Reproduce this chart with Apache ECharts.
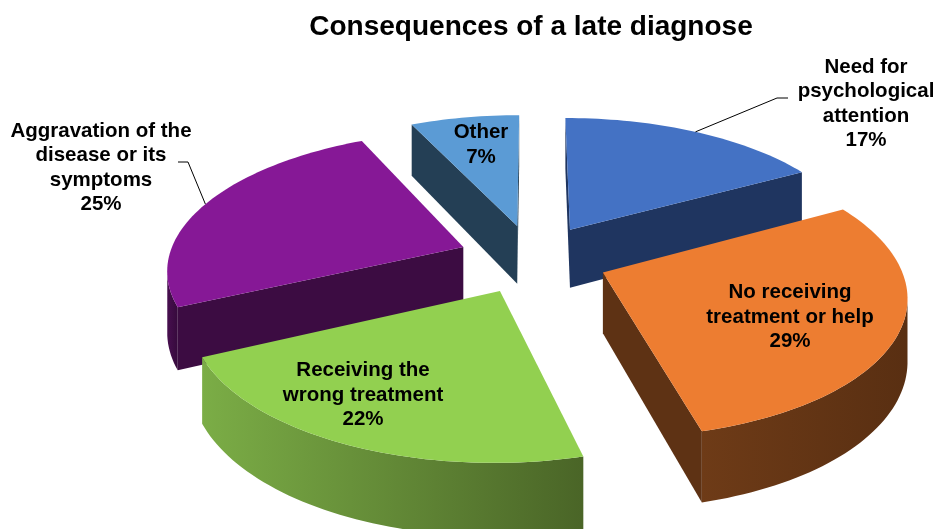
<!DOCTYPE html>
<html>
<head>
<meta charset="utf-8">
<title>Consequences of a late diagnose</title>
<script src="https://cdn.jsdelivr.net/npm/echarts@6/dist/echarts.min.js"></script>
<style>
  html, body { margin: 0; padding: 0; background: #fff; }
  #chart { width: 937px; height: 529px; }
</style>
</head>
<body>
<div id="chart"></div>
<script>
// data, clockwise from 12 o'clock
const categories = ['Need for\npsychological\nattention', 'No receiving\ntreatment or help', 'Receiving the\nwrong treatment', 'Aggravation of the\ndisease or its\nsymptoms', 'Other'];
const shares = [17, 29, 22, 25, 7];

// colours
const topColors = ['#4472C4', '#ED7D31', '#92D050', '#861896', '#5B9BD5'];
const wallColors = ['#1F3560', '#5E3214', '#5A7E31', '#3C0C42', '#243F55'];
const rimLight = ['#24406F', '#6E3B17', '#7BAD46', '#470F4F', '#2B4A63'];
const rimDark = ['#1C3056', '#592F12', '#4A6527', '#360A3C', '#213A4F'];

// label placement (text centres) and leader line starts for the outside labels
const labelPos = [[866, 104], [790, 317], [363, 395], [101, 168], [481, 145]];
const leaderFrom = { 0: [[788, 98], [777, 98]], 3: [[178, 162], [188, 162]] };

// fake 3d camera
const CX = 533, CY = 258.5, R = 295, TILT = 0.461, FOCAL = 2000, DEPTH = 60, EXPLODE = 75;
const FONT = '"Liberation Sans", Arial, sans-serif';

const total = shares.reduce((a, b) => a + b, 0);
const startAngles = [];
let acc = 0;
shares.forEach(v => { startAngles.push(acc / total * Math.PI * 2); acc += v; });

// farther slices get painted first
const midOf = i => startAngles[i] + shares[i] / total * Math.PI;
const order = shares.map((v, i) => i).sort((a, b) => Math.cos(midOf(b)) - Math.cos(midOf(a)));
const rank = [];
order.forEach((idx, r) => { rank[idx] = r; });

function project(x, d, h) {
  const s = FOCAL / (FOCAL + d);
  return [CX + x * s, CY + (-d * TILT + h) * s];
}

function faces(nx, nd, px, pd) {
  // wall is seen when its normal points at the camera
  return nx * (-px) + nd * (-FOCAL - pd) > 0;
}

function renderItem(params, api) {
  const i = params.dataIndex;
  const a0 = startAngles[i];
  const a1 = a0 + api.value(0) / total * Math.PI * 2;
  const am = (a0 + a1) / 2;
  const ox = EXPLODE * Math.sin(am), od = EXPLODE * Math.cos(am);
  const rim = (a, h) => project(ox + R * Math.sin(a), od + R * Math.cos(a), h);
  const base = rank[i] * 10;
  const children = [];

  const n = Math.max(6, Math.ceil((a1 - a0) / (Math.PI / 120)));
  const top = [], bot = [], seen = [];
  for (let k = 0; k <= n; k++) {
    const a = a0 + (a1 - a0) * k / n;
    top.push(rim(a, 0));
    bot.push(rim(a, DEPTH));
    seen.push(faces(Math.sin(a), Math.cos(a), ox + R * Math.sin(a), od + R * Math.cos(a)));
  }

  // curved outer wall, only the part facing us
  const idx = seen.map((v, k) => v ? k : -1).filter(k => k >= 0);
  if (idx.length > 1) {
    const ptsTop = idx.map(k => top[k]);
    const ptsBot = idx.map(k => bot[k]).reverse();
    children.push({
      type: 'polygon', z2: base + 1,
      shape: { points: ptsTop.concat(ptsBot) },
      style: {
        fill: new echarts.graphic.LinearGradient(0, 0, 1, 0, [
          { offset: 0, color: rimLight[i] }, { offset: 1, color: rimDark[i] }
        ]),
        stroke: null
      }
    });
  }

  // cut walls
  const apexTop = project(ox, od, 0), apexBot = project(ox, od, DEPTH);
  if (faces(-Math.cos(a0), Math.sin(a0), ox, od)) {
    children.push({
      type: 'polygon', z2: base + 1,
      shape: { points: [apexTop, rim(a0, 0), rim(a0, DEPTH), apexBot] },
      style: { fill: wallColors[i] }
    });
  }
  if (faces(Math.cos(a1), -Math.sin(a1), ox, od)) {
    children.push({
      type: 'polygon', z2: base + 1,
      shape: { points: [apexTop, rim(a1, 0), rim(a1, DEPTH), apexBot] },
      style: { fill: wallColors[i] }
    });
  }

  // top face
  children.push({
    type: 'polygon', z2: base + 2,
    shape: { points: [apexTop].concat(top) },
    style: { fill: topColors[i] }
  });

  // leader line for labels outside the pie
  if (leaderFrom[i]) {
    children.push({
      type: 'polyline', z2: 200,
      shape: { points: leaderFrom[i].concat([rim(am, 0)]) },
      style: { stroke: '#000', lineWidth: 1, fill: null }
    });
  }

  children.push({
    type: 'text', z2: 300,
    style: {
      text: categories[i] + '\n' + api.value(0) + '%',
      x: labelPos[i][0], y: labelPos[i][1],
      align: 'center', verticalAlign: 'middle',
      font: 'bold 20.5px ' + FONT, lineHeight: 24.5,
      fill: '#000'
    }
  });

  return { type: 'group', children: children };
}

const chart = echarts.init(document.getElementById('chart'));
chart.setOption({
  animation: false,
  backgroundColor: '#fff',
  graphic: [{
    type: 'text', x: 531, y: 27,
    style: {
      text: 'Consequences of a late diagnose',
      align: 'center', verticalAlign: 'middle',
      font: 'bold 28px ' + FONT, fill: '#000'
    }
  }],
  series: [{
    type: 'custom',
    coordinateSystem: 'none',
    renderItem: renderItem,
    data: shares
  }]
});
</script>
</body>
</html>
